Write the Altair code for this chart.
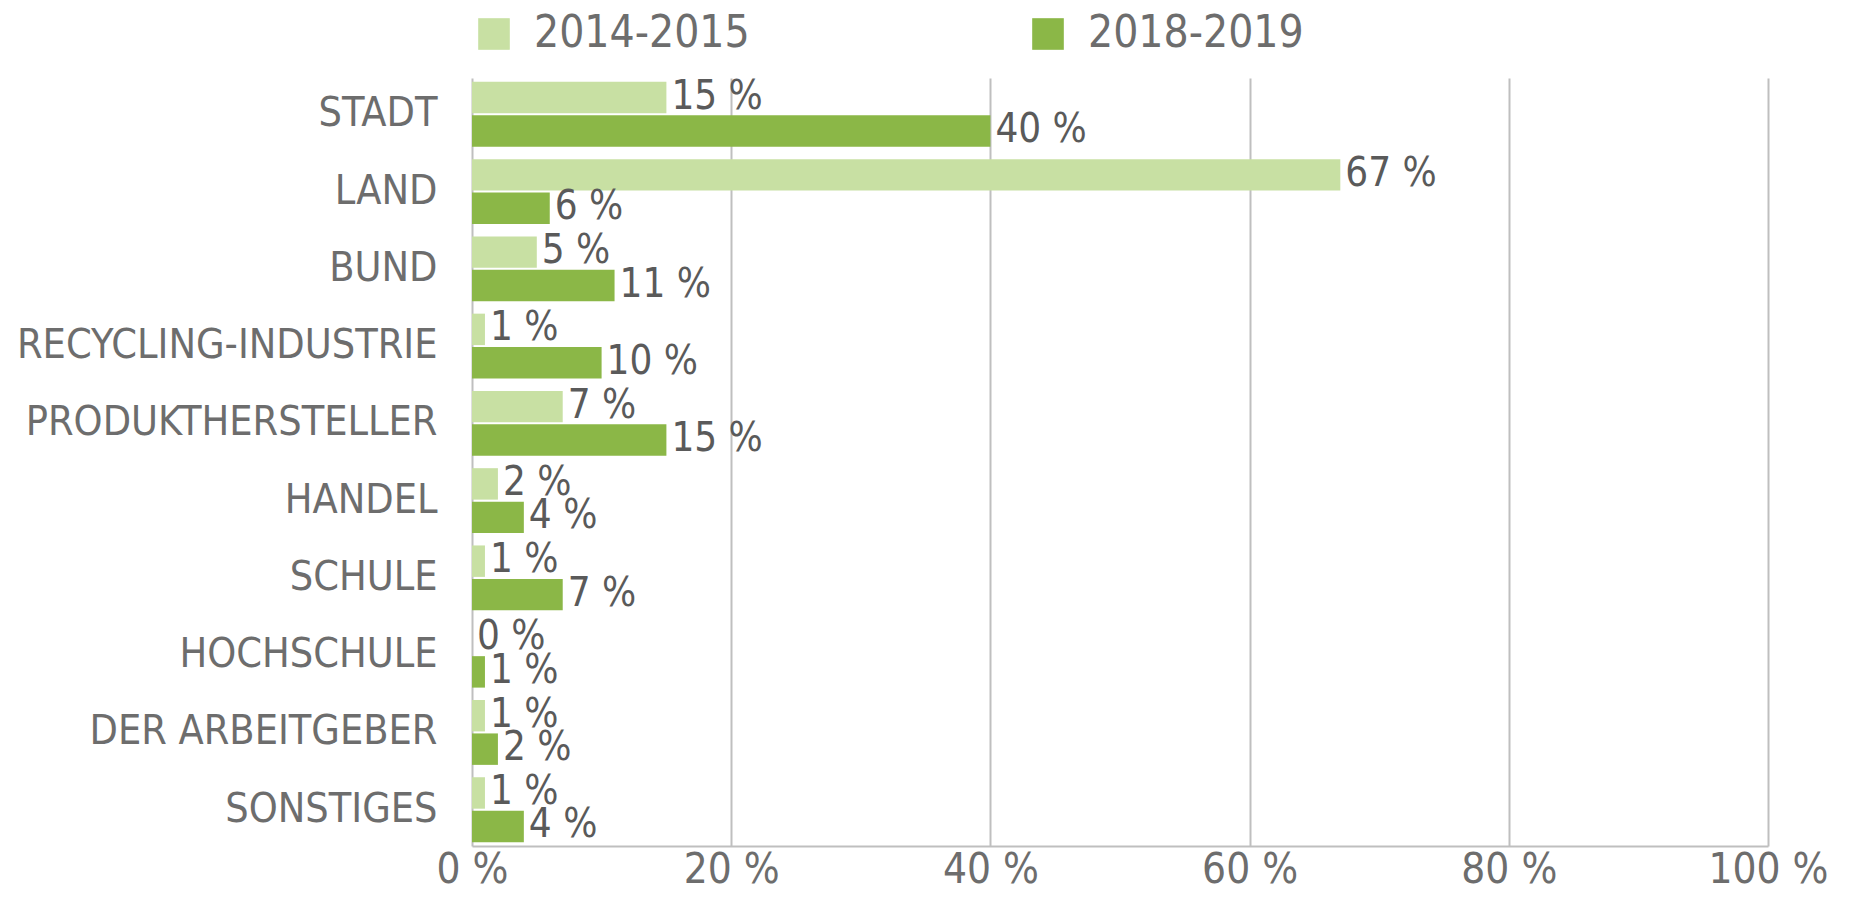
import altair as alt
import pandas as pd

categories = ["STADT", "LAND", "BUND", "RECYCLING-INDUSTRIE", "PRODUKTHERSTELLER",
              "HANDEL", "SCHULE", "HOCHSCHULE", "DER ARBEITGEBER", "SONSTIGES"]
series = ["2014-2015", "2018-2019"]
values_2014 = [15, 67, 5, 1, 7, 2, 1, 0, 1, 1]
values_2018 = [40, 6, 11, 10, 15, 4, 7, 1, 2, 4]
colors = ["#c8e0a3", "#8bb747"]
ticks = [0, 20, 40, 60, 80, 100]

rows = []
for c, a, b in zip(categories, values_2014, values_2018):
    rows.append({"cat": c, "series": series[0], "value": a, "label": f"{a} %"})
    rows.append({"cat": c, "series": series[1], "value": b, "label": f"{b} %"})
df = pd.DataFrame(rows)

FONT = "DejaVu Sans Condensed, Liberation Sans Narrow, sans-serif"
TXT = "#6d6d6d"

y_enc = alt.Y("cat:N", sort=categories, title=None,
              scale=alt.Scale(paddingInner=0.16, paddingOuter=0.05),
              axis=alt.Axis(domain=False, ticks=False, labelFontSize=41, labelFont=FONT,
                            labelColor=TXT, labelPadding=35, labelLimit=600))
yoff = alt.YOffset("series:N", sort=series, scale=alt.Scale(paddingInner=0.06))
x_enc = alt.X("value:Q", title=None,
              scale=alt.Scale(domain=[0, 100], nice=False),
              axis=alt.Axis(values=ticks, labelExpr="datum.value + ' %'", grid=True,
                            gridColor="#bfbfbf", gridWidth=2, domainColor="#bfbfbf",
                            domainWidth=2, ticks=False, labelFontSize=42, labelFont=FONT,
                            labelColor=TXT, labelPadding=3, labelFlush=False,
                            labelOverlap=False))

base = alt.Chart(df)
bars = base.mark_bar(opacity=1).encode(
    y=y_enc, yOffset=yoff, x=x_enc,
    color=alt.Color("series:N", scale=alt.Scale(domain=series, range=colors),
                    legend=alt.Legend(title=None, orient="none", legendX=0, legendY=-66,
                                      direction="horizontal", symbolType="square",
                                      symbolSize=1000, symbolStrokeWidth=0,
                                      labelFontSize=44, labelFont=FONT, labelColor=TXT,
                                      labelOffset=18, columnPadding=276, labelLimit=400)),
)
texts = base.mark_text(align="left", baseline="middle", dx=5, dy=-1, fontSize=40,
                       font=FONT, color="#5a5a5a").encode(
    y=alt.Y("cat:N", sort=categories), yOffset=yoff, x="value:Q", text="label:N")

chart = (bars + texts).properties(
    width=1296, height=768,
    autosize=alt.AutoSizeParams(type="none"),
    padding={"left": 464, "top": 70, "right": 60, "bottom": 49},
).configure(background="white").configure_view(stroke=None)

chart.save("out.html", embed_options={"renderer": "svg", "actions": False})
